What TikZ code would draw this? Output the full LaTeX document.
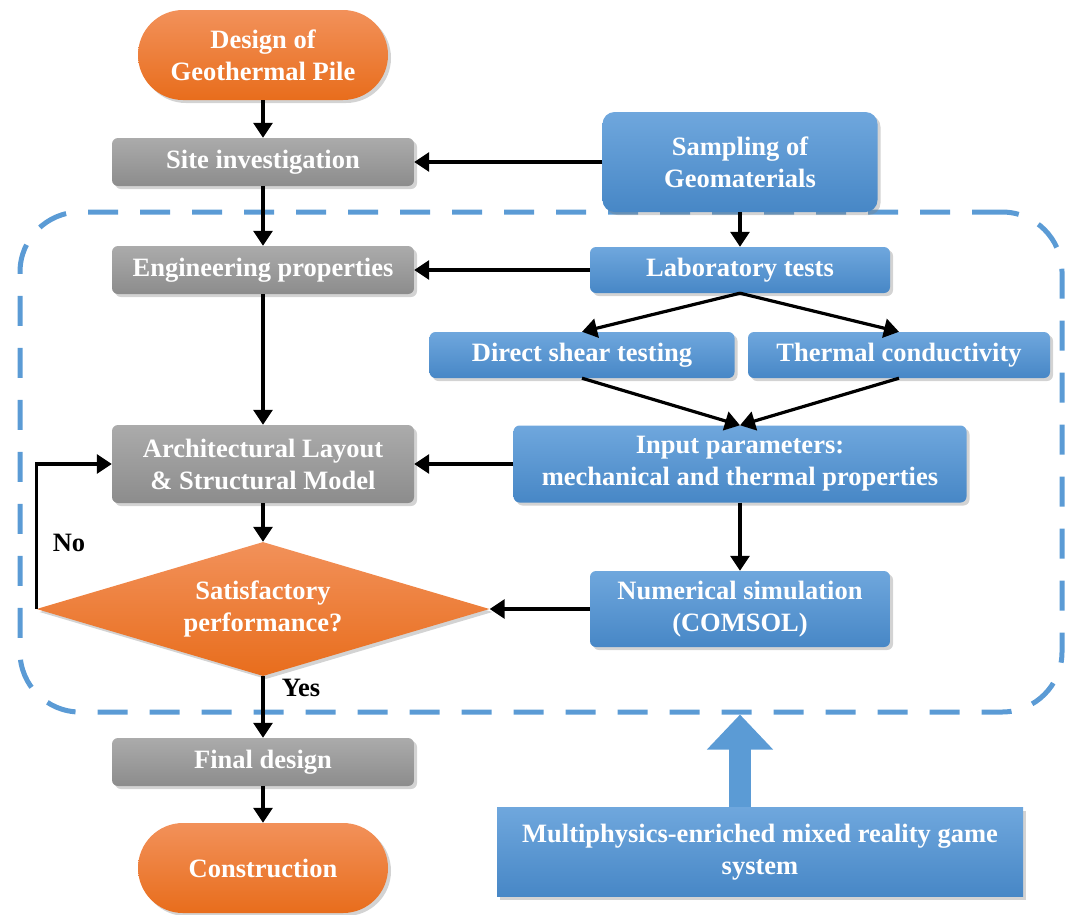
\documentclass[tikz,border=0pt]{standalone}
\usepackage{fontspec}
\setmainfont{Liberation Serif}
\usetikzlibrary{arrows.meta, shapes.geometric, shadows}

\definecolor{pileorange}{HTML}{EF7B2C}
\definecolor{pileorangetop}{HTML}{F2915A}
\definecolor{pileorangebot}{HTML}{E86D1C}
\definecolor{labblue}{HTML}{5B9BD5}
\definecolor{labbluetop}{HTML}{6FA7DD}
\definecolor{labbluebot}{HTML}{4787C6}
\definecolor{stepgreytop}{HTML}{ABABAB}
\definecolor{stepgreybot}{HTML}{8C8C8C}

\begin{document}
\begin{tikzpicture}[
  x=1pt, y=-1pt,
  every node/.style={font=\fontsize{26.5}{32}\selectfont\bfseries},
  box/.style={rounded corners=6pt, minimum height=48pt, align=center, inner sep=3pt,
    text=white, drop shadow={shadow xshift=3pt, shadow yshift=-3pt, opacity=0.35}},
  pile/.style={box, top color=pileorangetop, bottom color=pileorangebot,
    rounded corners=45pt, minimum width=250pt, minimum height=90pt},
  stepbox/.style={box, top color=stepgreytop, bottom color=stepgreybot, minimum width=302pt},
  labbox/.style={box, top color=labbluetop, bottom color=labbluebot},
  check/.style={diamond, aspect=3.38, top color=pileorangetop, bottom color=pileorangebot,
    text=white, inner sep=0pt, minimum width=453pt, minimum height=134pt, align=center,
    drop shadow={shadow xshift=3pt, shadow yshift=-3pt, opacity=0.35}},
  zone/.style={draw=labblue, line width=5pt, dash pattern=on 30pt off 22pt,
    rounded corners=60pt, minimum width=1042pt, minimum height=500pt, inner sep=0pt},
  arrow/.style={-{Triangle[length=15pt, width=19pt]}, line width=3.2pt, draw=black},
  answer/.style={text=black}
]
\useasboundingbox (0,0) rectangle (1070,914);

% === DASHED ZONE ===
\node[zone] (zone) at (541,462) {};

% === LEFT COLUMN ===
\node[pile] (design) at (263,55) {Design of\\Geothermal Pile};
\node[stepbox] (site) at (263,162) {Site investigation};
\node[stepbox] (eng) at (263,270) {Engineering properties};
\node[stepbox, minimum height=78pt] (arch) at (263,464)
  {Architectural Layout\\\& Structural Model};
\node[check] (satis) at (263,609) {Satisfactory\\performance?};
\node[stepbox] (final) at (263,762) {Final design};
\node[pile] (constr) at (263,868) {Construction};

% === RIGHT COLUMN ===
\node[labbox, rounded corners=12pt, minimum width=275pt, minimum height=100pt]
  (sampling) at (740,162) {Sampling of\\Geomaterials};
\node[labbox, minimum width=300pt, minimum height=46pt] (lab) at (740,270) {Laboratory tests};
\node[labbox, minimum width=305pt, minimum height=46pt] (shear) at (582,355) {Direct shear testing};
\node[labbox, minimum width=302pt, minimum height=46pt] (cond) at (899,355) {Thermal conductivity};
\node[labbox, minimum width=453pt, minimum height=77pt] (input) at (740,464)
  {Input parameters:\\mechanical and thermal properties};
\node[labbox, minimum width=300pt, minimum height=76pt] (numsim) at (740,609)
  {Numerical simulation\\(COMSOL)};
\node[labbox, rounded corners=0pt, minimum width=526pt, minimum height=89pt] (game) at (760,852)
  {Multiphysics-enriched mixed reality game\\system};

% labels
\node[answer] (no) at (69,543) {No};
\node[answer] (yes) at (301,688) {Yes};

% === ARROWS ===
\draw[arrow] (design.south) -- (site.north);
\draw[arrow] (site.south) -- (eng.north);
\draw[arrow] (eng.south) -- (arch.north);
\draw[arrow] (arch.south) -- (satis.north);
\draw[arrow] (satis.south) -- (final.north);
\draw[arrow] (final.south) -- (constr.north);
\draw[arrow] (satis.west) -- (satis.west |- arch.west) -- (arch.west);

\draw[arrow] (sampling.west) -- (site.east);
\draw[arrow] (sampling.south) -- (lab.north);
\draw[arrow] (lab.west) -- (eng.east);
\draw[arrow] (lab.south) -- (shear.north);
\draw[arrow] (lab.south) -- (cond.north);
\draw[arrow] (shear.south) -- (input.north);
\draw[arrow] (cond.south) -- (input.north);
\draw[arrow] (input.west) -- (arch.east);
\draw[arrow] (input.south) -- (numsim.north);
\draw[arrow] (numsim.west) -- (satis.east);

% big arrow from game system
\draw[-{Triangle[length=35pt, width=64pt]}, line width=22pt, draw=labblue]
  (game.north -| numsim.south) -- (numsim.south |- zone.south);

\end{tikzpicture}
\end{document}
